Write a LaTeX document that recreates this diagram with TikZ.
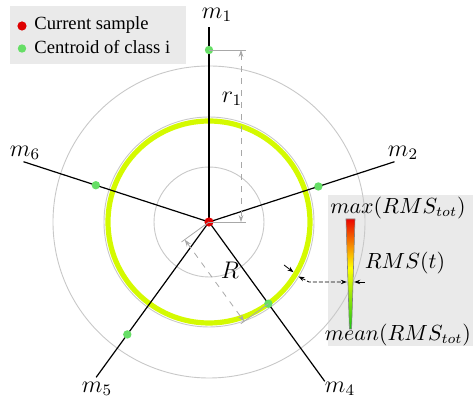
\documentclass[tikz,border=0pt]{standalone}
\usepackage{fontspec}
\setmainfont{Liberation Serif}
\usetikzlibrary{arrows.meta}
\definecolor{ringyellow}{RGB}{212,250,0}
\definecolor{circgray}{RGB}{200,200,200}
\definecolor{boxgray}{RGB}{234,234,234}
\definecolor{dimgray}{RGB}{168,168,168}
\definecolor{dotred}{RGB}{222,0,0}
\definecolor{dotgreen}{RGB}{102,222,102}
\definecolor{barred}{RGB}{235,0,0}
\definecolor{bargreen}{RGB}{20,200,20}
\begin{document}
\begin{tikzpicture}[x=0.5pt,y=-0.5pt,
  guide/.style={draw=circgray,line width=0.45pt},
  axis/.style={draw=black,line width=0.6pt},
  centroid/.style={circle,fill=dotgreen,inner sep=0pt,minimum size=4.2pt},
  sample/.style={circle,fill=dotred,inner sep=0pt,minimum size=4.6pt},
  dimline/.style={draw=dimgray,line width=0.4pt},
  dimarrow/.style={draw=dimgray,dashed,line width=0.4pt,{Stealth[length=3.5pt,width=2.4pt]}-{Stealth[length=3.5pt,width=2.4pt]}},
  thick arrow/.style={draw=black,line width=0.4pt,-{Stealth[length=3pt,width=2.2pt]}},
  axlabel/.style={font=\large,inner sep=0pt},
  barlabel/.style={font=\fontsize{10.5}{12}\selectfont,inner sep=0pt}
]
\useasboundingbox (0,0) rectangle (473,400);

% boxes
\fill[boxgray] (10,6) rectangle (186,64);
\fill[boxgray] (328,195) rectangle (473,346);

% centre
\coordinate (c) at (209,222);

% guide circles
\draw[guide] (c) circle[radius=27.5pt];
\draw[guide] (c) circle[radius=52.5pt];
\draw[guide] (c) circle[radius=78pt];
% RMS ring
\draw[draw=ringyellow,line width=2.6pt] (c) circle[radius=50.5pt];

% axis end points
\path (c) ++(-90:195) coordinate (e1);
\path (c) ++(-18:195) coordinate (e2);
\path (c) ++(54:197) coordinate (e4);
\path (c) ++(126:192) coordinate (e5);
\path (c) ++(198:195) coordinate (e6);

\draw[axis] (c) -- (e1);
\draw[axis] (c) -- (e2);
\draw[axis] (c) -- (e4);
\draw[axis] (c) -- (e5);
\draw[axis] (c) -- (e6);

% centroids
\path (c) ++(-90:172) node[centroid] (d1) {};
\path (c) ++(-18:115) node[centroid] (d2) {};
\path (c) ++(54:101) node[centroid] (d4) {};
\path (c) ++(126:139) node[centroid] (d5) {};
\path (c) ++(198:119) node[centroid] (d6) {};
\node[sample] (s) at (c) {};

% r1 dimension
\coordinate (r1a) at (246,50);
\coordinate (r1b) at (246,222);
\draw[dimline] (d1.center) -- (r1a);
\draw[dimline] (c) -- (r1b);
\coordinate (r1top) at (241,50);
\coordinate (r1bot) at (241,222);
\draw[dimarrow] (r1top) -- (r1bot);
\node[axlabel] (r1lab) at (232,99) {$r_1$};

% R dimension
\path (c) ++(54:101) coordinate (ringpt);
\path (c) ++(144:34) coordinate (Rext1);
\path (ringpt) ++(144:34) coordinate (Rext2);
\path (c) ++(144:30) coordinate (Ra);
\path (ringpt) ++(144:30) coordinate (Rb);
\draw[dimline] (c) -- (Rext1);
\draw[dimline] (ringpt) -- (Rext2);
\draw[dimarrow] (Ra) -- (Rb);
\node[axlabel] (Rlab) at (230,270) {$R$};

% axis labels
\node[axlabel] (m1) at (217,15) {$m_1$};
\node[axlabel] (m2) at (403,153) {$m_2$};
\node[axlabel] (m4) at (340,389) {$m_4$};
\node[axlabel] (m5) at (97,389) {$m_5$};
\node[axlabel] (m6) at (25,153) {$m_6$};

% colour bar wedge
\begin{scope}
  \clip (346,219) -- (355,219) -- (351.6,329) -- (349.4,329) -- cycle;
  \shade[top color=barred,bottom color=yellow] (340,218) rectangle (362,268);
  \shade[top color=yellow,bottom color=bargreen] (340,268) rectangle (362,330);
\end{scope}
\draw[draw=gray,line width=0.3pt] (346,219) -- (355,219) -- (351.6,329) -- (349.4,329) -- cycle;

\node[barlabel] (maxl) at (398,208) {$max(RMS_{tot})$};
\node[barlabel] (rmsl) at (405,263) {$RMS(t)$};
\node[barlabel] (meanl) at (398,335) {$mean(RMS_{tot})$};

% thickness arrows
\coordinate (ia) at (284,265);
\coordinate (ib) at (293.5,272.2);
\coordinate (oa) at (309,282);
\coordinate (ob) at (298.5,276.5);
\coordinate (wl) at (346.8,282);
\coordinate (wra) at (365,282);
\coordinate (wrb) at (354.2,282);
\draw[thick arrow] (ia) -- (ib);
\draw[draw=black,line width=0.4pt,dash pattern=on 2pt off 1pt,{Stealth[length=3pt,width=2.2pt]}-{Stealth[length=3pt,width=2.2pt]}] (ob) -- (oa) -- (wl);
\draw[thick arrow] (wra) -- (wrb);

% legend
\node[sample] (ls) at (22,26) {};
\node[anchor=west,inner sep=0pt,font=\fontsize{9.3}{11}\selectfont] (lst) at (34,25) {Current sample};
\node[centroid] (lc) at (22,48.5) {};
\node[anchor=west,inner sep=0pt,font=\fontsize{9.3}{11}\selectfont] (lct) at (34,47.5) {Centroid of class i};
\end{tikzpicture}
\end{document}
